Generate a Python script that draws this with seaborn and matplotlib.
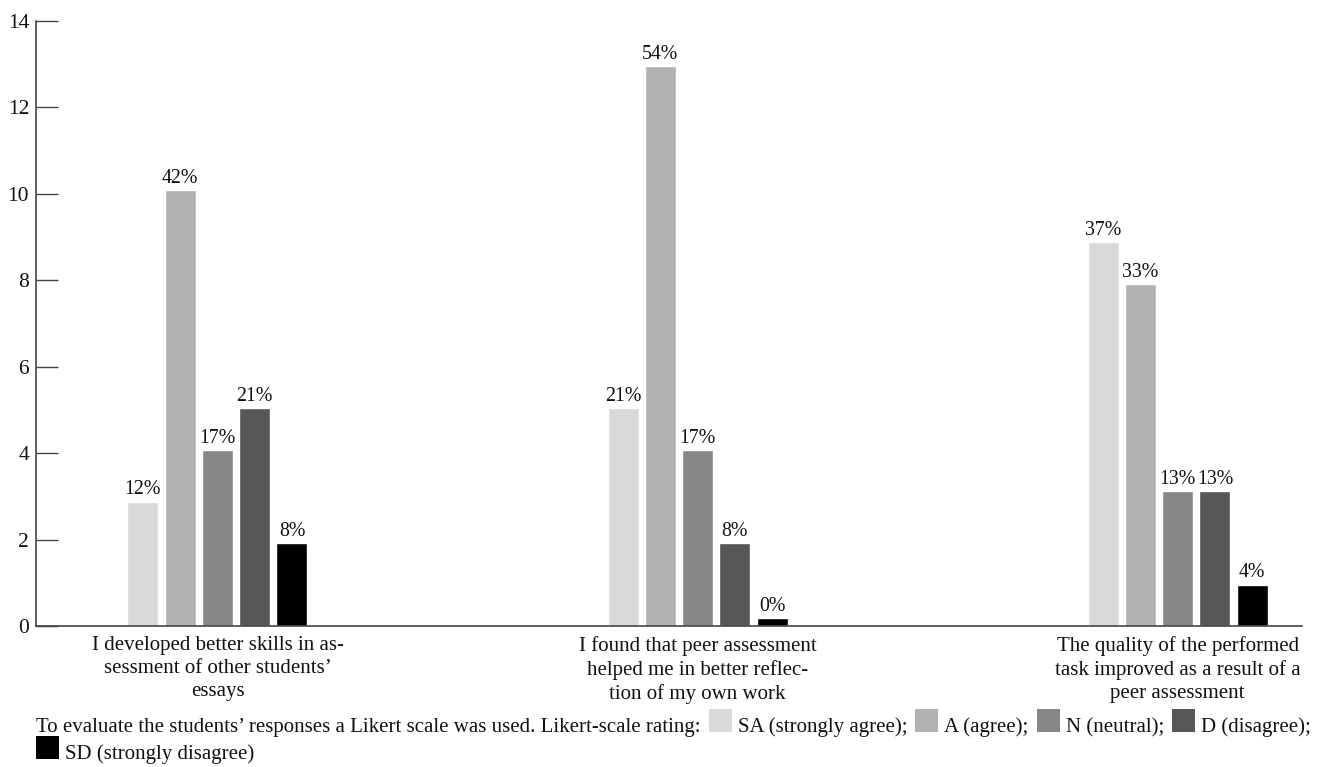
import matplotlib
matplotlib.use("Agg")
import matplotlib.pyplot as plt
import matplotlib.patches as mpatches
import seaborn as sns
import pandas as pd

# ---- data ----
categories = [
    "I developed better skills in as-\nsessment of other students’\nessays",
    "I found that peer assessment\nhelped me in better reflec-\ntion of my own work",
    "The quality of the performed\ntask improved as a result of a\npeer assessment",
]
ratings = ["SA", "A", "N", "D", "SD"]
rating_names = ["SA (strongly agree);", "A (agree);", "N (neutral);", "D (disagree);", "SD (strongly disagree)"]
sa_values = [2.88, 5.04, 8.88]
a_values = [10.08, 12.96, 7.92]
n_values = [4.08, 4.08, 3.12]
d_values = [5.04, 1.92, 3.12]
sd_values = [1.92, 0.18, 0.96]
sa_pct = ["12%", "21%", "37%"]
a_pct = ["42%", "54%", "33%"]
n_pct = ["17%", "17%", "13%"]
d_pct = ["21%", "8%", "13%"]
sd_pct = ["8%", "0%", "4%"]
y_ticks = [0, 2, 4, 6, 8, 10, 12, 14]
colors = ["#d9d9d9", "#b2b2b2", "#878787", "#575757", "#000000"]
footnote_prefix = "To evaluate the students’ responses a Likert scale was used. Likert-scale rating:"

series = [sa_values, a_values, n_values, d_values, sd_values]
pcts = [sa_pct, a_pct, n_pct, d_pct, sd_pct]

rows = []
for r, vals in zip(ratings, series):
    for c, v in zip(categories, vals):
        rows.append({"category": c, "rating": r, "value": v})
df = pd.DataFrame(rows)

sns.set_theme(style="white")
plt.rcParams["font.family"] = ["Liberation Serif", "DejaVu Serif"]

W, H = 1321, 767
fig = plt.figure(figsize=(W / 100, H / 100), dpi=100)
ax_l, ax_r, ax_t, ax_b = 36, 1302, 21, 626
ax = fig.add_axes([ax_l / W, 1 - ax_b / H, (ax_r - ax_l) / W, (ax_b - ax_t) / H])

sns.barplot(data=df, x="category", y="value", hue="rating", hue_order=ratings,
            order=categories, palette=colors, saturation=1, width=0.388, gap=0.168,
            legend=False, ax=ax, err_kws={"linewidth": 0})

for cont, labels in zip(ax.containers, pcts):
    ax.bar_label(cont, labels=labels, padding=1.5, fontsize=14.3, color="#111111")

ax.set_ylim(0, 14)
ax.set_xlim(-0.378, 2.259)
ax.set_yticks(y_ticks)
ax.set_yticklabels([str(t) for t in y_ticks], fontsize=15.5, color="#111111")
ax.set_xlabel("")
ax.set_ylabel("")
ax.tick_params(axis="y", direction="in", length=16, width=1.0, color="#444444", pad=5, left=True)
ax.tick_params(axis="x", length=0, pad=7, labelsize=15, labelcolor="#111111")
for lbl in ax.get_xticklabels():
    lbl.set_linespacing(1.3)
for s in ["top", "right"]:
    ax.spines[s].set_visible(False)
for s in ["left", "bottom"]:
    ax.spines[s].set_color("#444444")
    ax.spines[s].set_linewidth(1.2)

# ---- footnote with inline swatches ----
renderer = fig.canvas.get_renderer()
fs = 15
sq = 23
base1 = 732
base2 = 759
x = 36

def put_text(x_px, base_px, s):
    t = fig.text(x_px / W, 1 - base_px / H, s, fontsize=fs, va="baseline", ha="left", color="#111111")
    bb = t.get_window_extent(renderer)
    return x_px + bb.width

def put_square(x_px, base_px, col):
    fig.patches.append(mpatches.Rectangle((x_px / W, 1 - base_px / H), sq / W, sq / H,
                                          transform=fig.transFigure, facecolor=col,
                                          edgecolor="none", figure=fig))
    return x_px + sq

x = put_text(x, base1, footnote_prefix)
for i in range(4):
    x += 8
    x = put_square(x, base1, colors[i])
    x += 6
    x = put_text(x, base1, rating_names[i])
x = 36
x = put_square(x, base2, colors[4])
x += 6
put_text(x, base2, rating_names[4])

fig.savefig("out.png", dpi=100, facecolor="white")
